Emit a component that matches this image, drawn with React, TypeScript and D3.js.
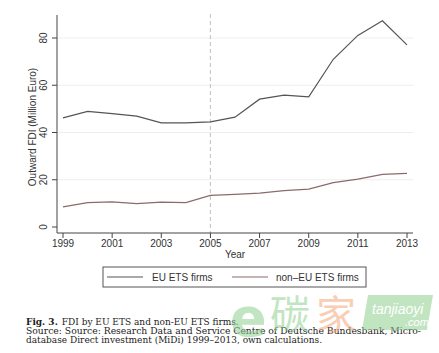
import React from "react";
import * as d3 from "d3";

const years = [1999, 2000, 2001, 2002, 2003, 2004, 2005, 2006, 2007, 2008, 2009, 2010, 2011, 2012, 2013];
const euEts = [46.2, 48.9, 48.0, 46.9, 44.1, 44.1, 44.5, 46.5, 54.1, 55.8, 55.1, 71.0, 81.1, 87.3, 77.1];
const nonEuEts = [8.5, 10.3, 10.6, 9.9, 10.5, 10.3, 13.4, 13.8, 14.3, 15.4, 16.0, 18.8, 20.3, 22.3, 22.7];
const yTicks = [0, 20, 40, 60, 80];
const xTicks = [1999, 2001, 2003, 2005, 2007, 2009, 2011, 2013];
const seriesNames = ["EU ETS firms", "non\u2013EU ETS firms"];
const captionLines = [
  "Source: Source: Research Data and Service Centre of Deutsche Bundesbank, Micro-",
  "database Direct investment (MiDi) 1999\u20132013, own calculations.",
];

export default function App() {
  const W = 439, H = 353;
  const x = d3.scaleLinear().domain([1999, 2013]).range([63, 407]);
  const y = d3.scaleLinear().domain([0, 80]).range([227, 38]);
  const line = d3.line<number>().x((_, i) => x(years[i])).y((d) => y(d));
  const sans = "'Liberation Sans', Arial, sans-serif";
  const serif = "'DejaVu Serif', 'Liberation Serif', serif";
  return (
    <svg width={W} height={H} style={{ position: "absolute", left: 0, top: 0, background: "#fff" }}>
      <rect width={W} height={H} fill="#fff" />
      {yTicks.slice(1).map((t) => (
        <line key={t} x1={57} x2={413} y1={y(t)} y2={y(t)} stroke="#eeeeee" strokeWidth={1} />
      ))}
      <line x1={x(2005)} x2={x(2005)} y1={14} y2={233} stroke="#c8c8c8" strokeWidth={1.2} strokeDasharray="4,3" />
      <line x1={57} x2={57} y1={15} y2={233} stroke="#444" strokeWidth={1} />
      <line x1={57} x2={413} y1={233} y2={233} stroke="#444" strokeWidth={1} />
      {yTicks.map((t) => (
        <g key={t}>
          <line x1={52} x2={57} y1={y(t)} y2={y(t)} stroke="#444" />
          <text transform={`translate(47,${y(t)}) rotate(-90)`} textAnchor="middle" fontFamily={sans} fontSize={10} fill="#333">
            {t}
          </text>
        </g>
      ))}
      {xTicks.map((t) => (
        <g key={t}>
          <line x1={x(t)} x2={x(t)} y1={233} y2={238} stroke="#444" />
          <text x={x(t)} y={247} textAnchor="middle" fontFamily={sans} fontSize={10} fill="#333">
            {t}
          </text>
        </g>
      ))}
      <text x={235} y={258} textAnchor="middle" fontFamily={sans} fontSize={10} fill="#333">Year</text>
      <text transform="translate(36,127) rotate(-90)" textAnchor="middle" fontFamily={sans} fontSize={10} fill="#333">
        Outward FDI (Million Euro)
      </text>
      <path d={line(euEts) || ""} fill="none" stroke="#555" strokeWidth={1.2} />
      <path d={line(nonEuEts) || ""} fill="none" stroke="#8a6b6b" strokeWidth={1.2} />
      <rect x={103} y={267} width={263} height={20} fill="#fff" stroke="#555" strokeWidth={1} />
      <line x1={107} x2={143} y1={277} y2={277} stroke="#555" strokeWidth={1.2} />
      <text x={152} y={280.5} fontFamily={sans} fontSize={10} fill="#333">{seriesNames[0]}</text>
      <line x1={232} x2={268} y1={277} y2={277} stroke="#8a6b6b" strokeWidth={1.2} />
      <text x={276} y={280.5} fontFamily={sans} fontSize={10} fill="#333">{seriesNames[1]}</text>
      <text x={26} y={325} fontFamily={serif} fontSize={9} fill="#222">
        <tspan fontWeight="bold">Fig. 3.</tspan>
        <tspan dx={4}>FDI by EU ETS and non-EU ETS firms.</tspan>
      </text>
      <text x={26} y={334} fontFamily={serif} fontSize={9} fill="#222" textLength={395} lengthAdjust="spacingAndGlyphs">
        {captionLines[0]}
      </text>
      <text x={26} y={343} fontFamily={serif} fontSize={9} fill="#222" textLength={296} lengthAdjust="spacingAndGlyphs">
        {captionLines[1]}
      </text>
      <g opacity={0.55}>
        <text x={230} y={336} fontFamily="'DejaVu Sans', sans-serif" fontSize={54} fontWeight="bold" fill="#8fd08f">e</text>
        <text x={270} y={329} fontFamily="'Noto Sans CJK SC', sans-serif" fontSize={40} fill="#8fd08f">碳</text>
        <text x={316} y={329} fontFamily="'Noto Sans CJK SC', sans-serif" fontSize={40} fill="#f3a77a">家</text>
        <path d="M368,295 H433 L427,330 H362 Z" fill="#8fd08f" />
        <text x={372} y={314} fontFamily={sans} fontStyle="italic" fontSize={14} fill="#fff">tanjiaoyi</text>
        <text x={405} y={326} fontFamily={sans} fontStyle="italic" fontSize={11} fill="#fff">.com</text>
      </g>
    </svg>
  );
}
